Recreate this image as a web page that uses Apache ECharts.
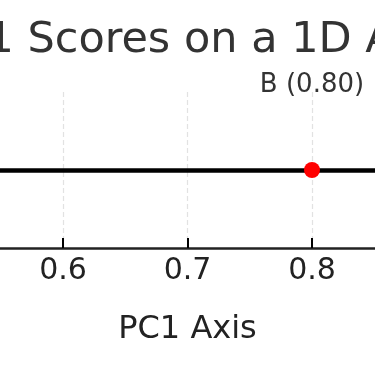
<!DOCTYPE html>
<html>
<head>
<meta charset="utf-8">
<script src="https://cdn.jsdelivr.net/npm/echarts@6/dist/echarts.min.js"></script>
<style>html,body{margin:0;padding:0;background:#fff}#c{width:375px;height:366px}</style>
</head>
<body>
<div id="c"></div>
<script>
const pointNames = ['B'];
const pc1Scores = [0.80];
const axisMin = 0.5, axisMax = 0.9, axisStep = 0.1;
const titleText = 'PC1 Scores on a 1D Axis';
const axisTitle = 'PC1 Axis';

const font = 'DejaVu Sans';
const chart = echarts.init(document.getElementById('c'), null, {renderer: 'canvas'});
chart.setOption({
  animation: false,
  backgroundColor: '#fff',
  title: {
    text: titleText, left: 187.5, textAlign: 'center', top: 14,
    textStyle: {fontFamily: font, fontSize: 43, fontWeight: 'normal', color: '#333'}
  },
  grid: {left: -61.5, right: -61.5, top: 92, bottom: 118, containLabel: false, outerBoundsMode: 'none'},
  xAxis: {
    type: 'value', min: axisMin, max: axisMax, interval: axisStep,
    name: axisTitle, nameLocation: 'middle', nameGap: 66,
    nameTextStyle: {fontFamily: font, fontSize: 32, color: '#222'},
    axisLine: {show: true, onZero: false, lineStyle: {color: '#222', width: 2.5}},
    axisTick: {show: true, inside: true, length: 10, lineStyle: {color: '#000', width: 2}},
    axisLabel: {fontFamily: font, fontSize: 30, color: '#222', margin: 8,
      formatter: v => v.toFixed(1)},
    splitLine: {show: true, lineStyle: {color: '#e2e2e2', width: 1.2, type: [5, 3]}}
  },
  yAxis: {type: 'value', min: -1, max: 1, show: false, splitLine: {show: false}},
  series: [{
    type: 'scatter',
    data: pc1Scores.map((v, i) => ({value: [v, 0], name: pointNames[i]})),
    symbolSize: 16,
    itemStyle: {color: '#ff0000', opacity: 1},
    label: {
      show: true, position: 'inside', offset: [0, -85],
      formatter: p => p.name + ' (' + p.value[0].toFixed(2) + ')',
      fontFamily: font, fontSize: 26, color: '#333'
    },
    z: 5,
    markLine: {
      silent: true, symbol: ['none', 'none'],
      label: {show: false},
      lineStyle: {color: '#000', width: 4.5, type: 'solid'},
      data: [{yAxis: 0}]
    }
  }]
});
</script>
</body>
</html>
